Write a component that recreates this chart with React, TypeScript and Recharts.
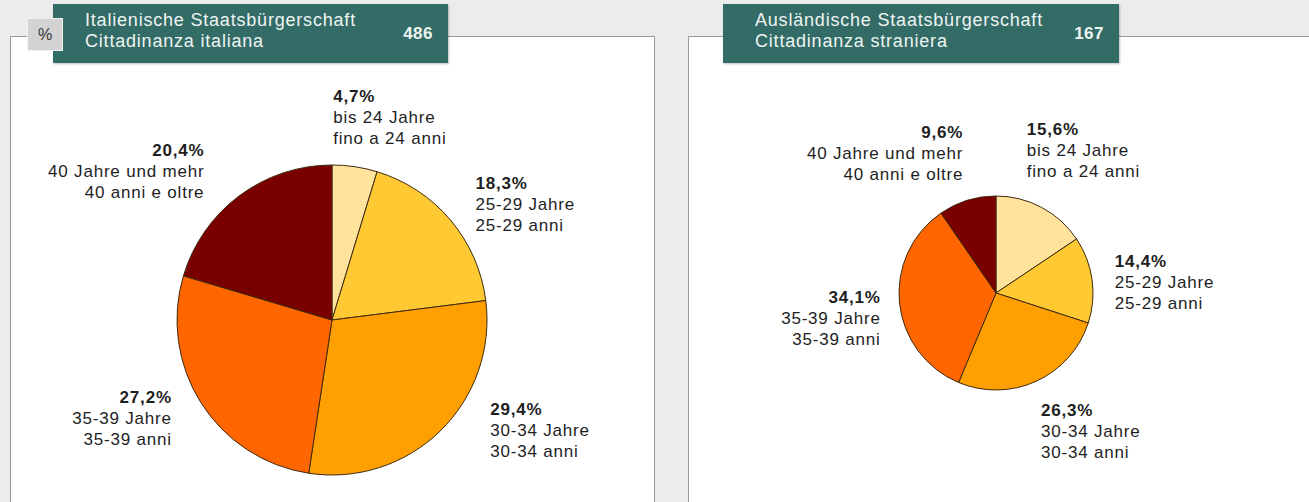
import React from "react";
import { PieChart, Pie, Cell } from "recharts";

// age groups (German / Italian)
const ageDe = ["bis 24 Jahre", "25-29 Jahre", "30-34 Jahre", "35-39 Jahre", "40 Jahre und mehr"];
const ageIt = ["fino a 24 anni", "25-29 anni", "30-34 anni", "35-39 anni", "40 anni e oltre"];

// shares in %
const italianPct = [4.7, 18.3, 29.4, 27.2, 20.4];
const foreignPct = [15.6, 14.4, 26.3, 34.1, 9.6];

const italianTotal = 486;
const foreignTotal = 167;

const sliceColors = ["#FFE29B", "#FFC934", "#FF9F00", "#FF6600", "#7A0000"];

// hand nudges for label blocks (dx, dy), like the original layout
const italianNudge = [[-26, -20], [2, 4], [29, -22], [-4, -1], [-17, 0]];
const foreignNudge = [[-29, -30], [-7, 7], [-8, 23], [11, 12], [5, -18]];

const FONT = "'Liberation Sans', Arial, Helvetica, sans-serif";
const TEAL = "#336B66";
const LABEL_GAP = 30;
const LINE = 21;

const fmt = (v: number) => v.toFixed(1).replace(".", ",") + "%";

const toRows = (vals: number[]) =>
  vals.map((v, i) => ({ name: ageDe[i], value: v }));

const makeLabel = (vals: number[], nudge: number[][]) => (props: any) => {
  const { cx, cy, midAngle, outerRadius, index } = props;
  const rad = Math.PI / 180;
  const r = outerRadius + LABEL_GAP;
  const cos = Math.cos(midAngle * rad);
  const ax = cx + r * cos;
  const ay = cy - r * Math.sin(midAngle * rad);
  const anchor = cos >= -0.05 ? "start" : "end";
  const x = ax + nudge[index][0];
  const yc = ay + nudge[index][1];
  return (
    <text
      key={`lbl-${index}`}
      textAnchor={anchor}
      fill="#1E1E1E"
      fontFamily={FONT}
      fontSize={17}
      letterSpacing={0.8}
    >
      <tspan x={x} y={yc - LINE} dominantBaseline="central" fontWeight="bold">
        {fmt(vals[index])}
      </tspan>
      <tspan x={x} y={yc} dominantBaseline="central">
        {ageDe[index]}
      </tspan>
      <tspan x={x} y={yc + LINE} dominantBaseline="central">
        {ageIt[index]}
      </tspan>
    </text>
  );
};

function Header({ left, width, de, it, total, pct }: any) {
  return (
    <>
      <div
        style={{
          position: "absolute",
          left,
          top: 4,
          width,
          height: 59,
          background: TEAL,
          color: "#EEF4F2",
          fontFamily: FONT,
          fontSize: 18,
          letterSpacing: 0.8,
          lineHeight: "21px",
          boxShadow: "1px 1px 2px rgba(0,0,0,0.25)",
        }}
      >
        <div style={{ position: "absolute", left: 32, top: 6 }}>
          {de}
          <br />
          {it}
        </div>
        <div
          style={{
            position: "absolute",
            right: 15,
            top: 19,
            fontSize: 17,
            letterSpacing: 0.5,
            fontWeight: "bold",
          }}
        >
          {total}
        </div>
      </div>
      {pct && (
        <div
          style={{
            position: "absolute",
            left: 27,
            top: 18,
            width: 36,
            height: 33,
            background: "#D3D3D3",
            border: "1px solid #F2F2F2",
            boxSizing: "border-box",
            fontFamily: FONT,
            fontSize: 16,
            color: "#333",
            display: "flex",
            alignItems: "center",
            justifyContent: "center",
          }}
        >
          %
        </div>
      )}
    </>
  );
}

export default function App() {
  return (
    <div
      style={{
        position: "absolute",
        left: 0,
        top: 0,
        width: 1309,
        height: 502,
        overflow: "hidden",
        background: "#ECECEC",
      }}
    >
      <div
        style={{
          position: "absolute",
          left: 10,
          top: 36,
          width: 643,
          height: 500,
          background: "#fff",
          border: "1px solid #9A9A9A",
        }}
      />
      <div
        style={{
          position: "absolute",
          left: 688,
          top: 36,
          width: 700,
          height: 500,
          background: "#fff",
          border: "1px solid #9A9A9A",
        }}
      />
      <div style={{ position: "absolute", left: 0, top: 0 }}>
        <PieChart
          width={1309}
          height={502}
          margin={{ top: 0, right: 0, bottom: 0, left: 0 }}
        >
          <Pie
            data={toRows(italianPct)}
            dataKey="value"
            cx={332}
            cy={320}
            outerRadius={155}
            startAngle={90}
            endAngle={-270}
            stroke="#3E2A10"
            strokeWidth={1}
            labelLine={false}
            label={makeLabel(italianPct, italianNudge)}
            isAnimationActive={false}
          >
            {italianPct.map((_, i) => (
              <Cell key={i} fill={sliceColors[i]} />
            ))}
          </Pie>
          <Pie
            data={toRows(foreignPct)}
            dataKey="value"
            cx={996}
            cy={293}
            outerRadius={97}
            startAngle={90}
            endAngle={-270}
            stroke="#3E2A10"
            strokeWidth={1}
            labelLine={false}
            label={makeLabel(foreignPct, foreignNudge)}
            isAnimationActive={false}
          >
            {foreignPct.map((_, i) => (
              <Cell key={i} fill={sliceColors[i]} />
            ))}
          </Pie>
        </PieChart>
      </div>
      <Header
        left={53}
        width={395}
        de="Italienische Staatsbürgerschaft"
        it="Cittadinanza italiana"
        total={italianTotal}
        pct
      />
      <Header
        left={723}
        width={396}
        de="Ausländische Staatsbürgerschaft"
        it="Cittadinanza straniera"
        total={foreignTotal}
      />
    </div>
  );
}
